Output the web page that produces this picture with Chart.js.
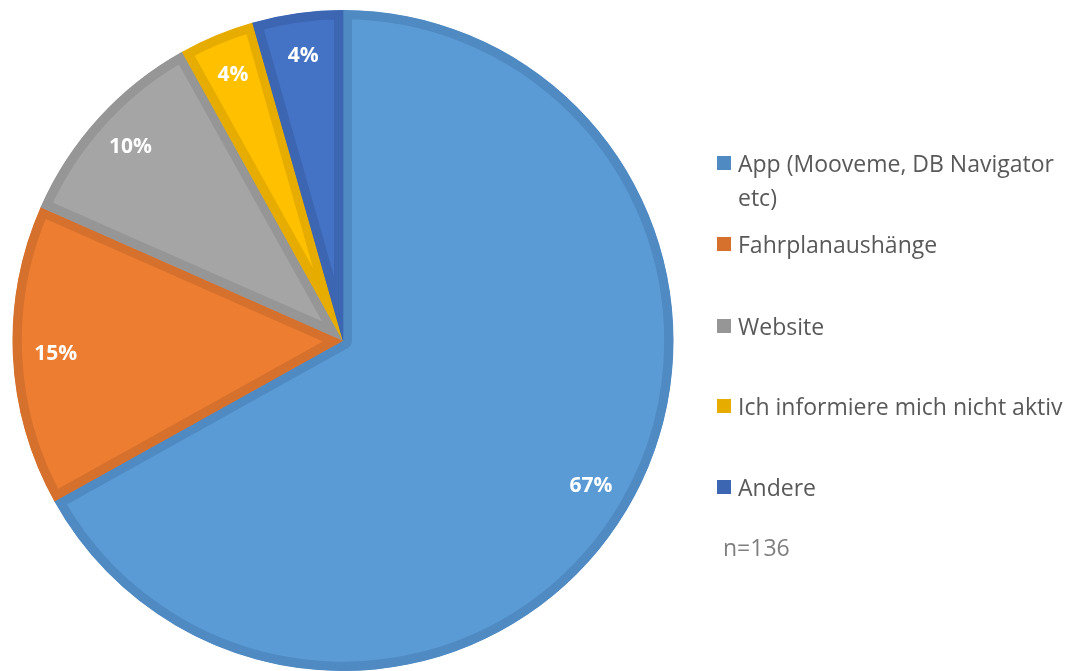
<!DOCTYPE html>
<html>
<head>
<meta charset="utf-8">
<script src="https://cdn.jsdelivr.net/npm/chart.js@4"></script>
<style>
    body { margin: 0; background: #fff; }
    #wrap { position: relative; width: 1074px; height: 671px; }
    #legend { position: absolute; left: 717px; top: 0; font-family: "Open Sans", sans-serif; font-size: 23px; color: #595959; }
    .item { position: absolute; left: 0; white-space: nowrap; line-height: 34px; }
    .box { position: absolute; left: 0; top: 10px; width: 14px; height: 14px; }
    .txt { position: absolute; left: 21px; top: 0; }
    #note { position: absolute; left: 6px; top: 530px; color: #7f7f7f; white-space: nowrap; line-height: 34px; }
</style>
</head>
<body>
<div id="wrap">
    <canvas id="pieChart" width="1074" height="671"></canvas>
    <div id="legend"></div>
</div>
<script>
const labels = ['App (Mooveme, DB Navigator etc)', 'Fahrplanaushänge', 'Website', 'Ich informiere mich nicht aktiv', 'Andere'];
const counts = [91, 20, 14, 5, 6];
const fillColors = ['#5B9BD5', '#ED7D31', '#A5A5A5', '#FFC000', '#4472C4'];
const borderColors = ['#4F8AC3', '#D6712D', '#969696', '#E6AD00', '#3D66B2'];
const legendLines = [['App (Mooveme, DB Navigator', 'etc)'], ['Fahrplanaushänge'], ['Website'], ['Ich informiere mich nicht aktiv'], ['Andere']];
const legendTops = [146, 227, 309, 389, 470];
const sampleNote = 'n=136';

const total = counts.reduce((s, v) => s + v, 0);

// percentage labels inside the slices
const pctLabels = {
    id: 'pctLabels',
    afterDatasetsDraw(chart) {
        const ctx = chart.ctx;
        const meta = chart.getDatasetMeta(0);
        ctx.save();
        ctx.fillStyle = '#ffffff';
        ctx.font = 'bold 21px "Open Sans", sans-serif';
        ctx.textAlign = 'center';
        ctx.textBaseline = 'middle';
        meta.data.forEach((arc, i) => {
            const mid = (arc.startAngle + arc.endAngle) / 2;
            const r = arc.outerRadius * 0.87;
            const x = arc.x + Math.cos(mid) * r;
            const y = arc.y + Math.sin(mid) * r;
            ctx.fillText(Math.round(counts[i] / total * 100) + '%', x, y);
        });
        ctx.restore();
    }
};

new Chart(document.getElementById('pieChart'), {
    type: 'pie',
    data: {
        labels: labels,
        datasets: [{
            data: counts,
            backgroundColor: fillColors,
            borderColor: borderColors,
            borderWidth: 9,
            borderAlign: 'inner'
        }]
    },
    options: {
        responsive: false,
        animation: false,
        layout: { padding: { left: 12, top: 10, right: 400, bottom: 0 } },
        plugins: {
            legend: { display: false },
            tooltip: { enabled: false }
        }
    },
    plugins: [pctLabels]
});

const legend = document.getElementById('legend');
legendLines.forEach((lines, i) => {
    const item = document.createElement('div');
    item.className = 'item';
    item.style.top = legendTops[i] + 'px';
    item.innerHTML = `<div class="box" style="background:${borderColors[i]}"></div><div class="txt">${lines.join('<br>')}</div>`;
    legend.appendChild(item);
});
const note = document.createElement('div');
note.id = 'note';
note.textContent = sampleNote;
legend.appendChild(note);
</script>
</body>
</html>
